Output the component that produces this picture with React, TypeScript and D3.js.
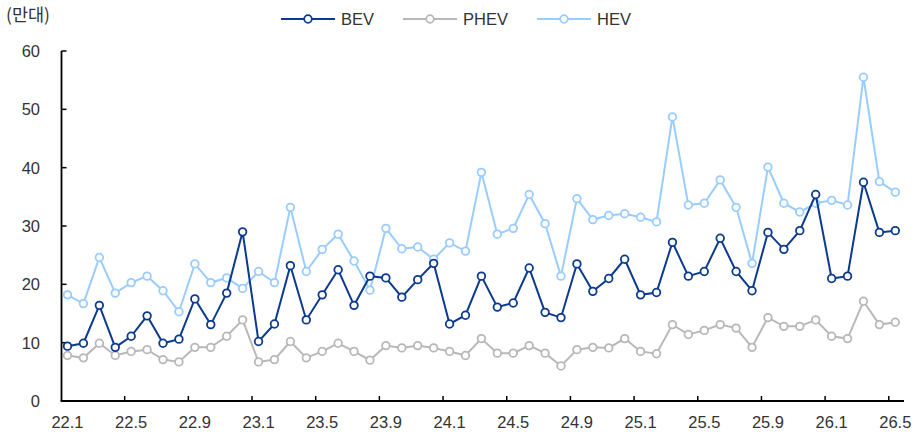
import React from "react";
import * as d3 from "d3";

const months: string[] = [];
for (let y = 22; y <= 26; y++) {
  for (let m = 1; m <= 12; m++) {
    if (y === 26 && m > 5) break;
    months.push(`${y}.${m}`);
  }
}

const tickLabels = ["22.1", "22.5", "22.9", "23.1", "23.5", "23.9", "24.1", "24.5", "24.9", "25.1", "25.5", "25.9", "26.1", "26.5"];
const yTicks = [0, 10, 20, 30, 40, 50, 60];

const bev = [
  9.4, 9.9, 16.4, 9.2, 11.1, 14.6, 9.9, 10.6, 17.5, 13.1, 18.5, 29.0,
  10.2, 13.2, 23.2, 13.9, 18.2, 22.5, 16.4, 21.4, 21.1, 17.8, 20.8, 23.6,
  13.2, 14.7, 21.4, 16.1, 16.8, 22.8, 15.2, 14.3, 23.5, 18.8, 21.0, 24.3,
  18.2, 18.6, 27.2, 21.4, 22.2, 27.9, 22.2, 18.9, 28.9, 26.0, 29.2, 35.4,
  21.0, 21.4, 37.5, 28.9, 29.2,
];
const phev = [
  7.8, 7.4, 9.9, 7.8, 8.5, 8.8, 7.1, 6.7, 9.2, 9.2, 11.1, 13.9,
  6.7, 7.1, 10.2, 7.4, 8.5, 9.9, 8.5, 7.0, 9.5, 9.1, 9.5, 9.1,
  8.5, 7.8, 10.7, 8.2, 8.2, 9.5, 8.2, 6.0, 8.8, 9.2, 9.1, 10.7,
  8.5, 8.1, 13.1, 11.4, 12.1, 13.1, 12.5, 9.2, 14.3, 12.8, 12.8, 13.9,
  11.1, 10.7, 17.1, 13.1, 13.5,
];
const hev = [
  18.2, 16.7, 24.6, 18.5, 20.3, 21.4, 18.9, 15.3, 23.5, 20.3, 21.1, 19.3,
  22.2, 20.3, 33.2, 22.2, 26.0, 28.6, 24.0, 19.0, 29.6, 26.1, 26.4, 24.3,
  27.1, 25.7, 39.2, 28.6, 29.6, 35.4, 30.4, 21.4, 34.7, 31.1, 31.8, 32.1,
  31.5, 30.7, 48.7, 33.6, 33.9, 37.9, 33.2, 23.6, 40.1, 33.9, 32.4, 33.9,
  34.4, 33.6, 55.5, 37.6, 35.8,
];

const seriesNames = ["BEV", "PHEV", "HEV"];
const seriesColors = ["#0B3A8E", "#B8B8B8", "#99CCFF"];
const seriesData = [bev, phev, hev];

export default function App() {
  const W = 920;
  const H = 435;
  const x = d3.scaleLinear().domain([0, months.length - 1]).range([67.5, 895.3]);
  const y = d3.scaleLinear().domain([0, 60]).range([401, 51]);
  const axisX0 = 61.5;
  const axisX1 = 904;
  const tickOffset = -6.5;
  const font = "'Liberation Sans', Arial, sans-serif";
  const textColor = "#333";

  const line = d3
    .line<number>()
    .x((_, i) => x(i))
    .y((d) => y(d));

  const legendX = [281, 403, 537];
  const order = [2, 1, 0];

  return (
    <svg
      width={W}
      height={H}
      style={{ position: "absolute", left: 0, top: 0, background: "#fff" }}
    >
      <text
        x={6}
        y={21}
        fontFamily="'Noto Sans CJK KR', sans-serif"
        fontSize={17.5}
        fill={textColor}
      >
        (만대)
      </text>

      {seriesNames.map((name, k) => (
        <g key={name}>
          <line
            x1={legendX[k]}
            x2={legendX[k] + 54}
            y1={19}
            y2={19}
            stroke={seriesColors[k]}
            strokeWidth={2}
          />
          <circle
            cx={legendX[k] + 27}
            cy={19}
            r={3.8}
            fill="#fff"
            stroke={seriesColors[k]}
            strokeWidth={1.8}
          />
          <text
            x={legendX[k] + 60}
            y={25}
            fontFamily={font}
            fontSize={16.5}
            fill={textColor}
          >
            {name}
          </text>
        </g>
      ))}

      <line x1={axisX0} x2={axisX0} y1={y(60)} y2={y(0)} stroke="#000" strokeWidth={1.8} />
      {yTicks.map((t) => (
        <g key={t}>
          <line x1={axisX0} x2={axisX0 + 5} y1={y(t)} y2={y(t)} stroke="#000" strokeWidth={1.5} />
          <text
            x={40}
            y={y(t)}
            dy="0.36em"
            textAnchor="end"
            fontFamily={font}
            fontSize={16.5}
            fill={textColor}
          >
            {t}
          </text>
        </g>
      ))}

      <line x1={axisX0 - 0.9} x2={axisX1} y1={y(0)} y2={y(0)} stroke="#000" strokeWidth={1.8} />
      {months.map((m, i) =>
        tickLabels.includes(m) ? (
          <g key={m}>
            {i > 0 && (
              <line
                x1={x(i) + tickOffset}
                x2={x(i) + tickOffset}
                y1={y(0)}
                y2={y(0) - 5}
                stroke="#000"
                strokeWidth={1.5}
              />
            )}
            <text
              x={x(i)}
              y={428}
              textAnchor="middle"
              fontFamily={font}
              fontSize={16.5}
              fill={textColor}
            >
              {m}
            </text>
          </g>
        ) : null
      )}

      {order.map((k) => (
        <g key={seriesNames[k]}>
          <path
            d={line(seriesData[k]) || ""}
            fill="none"
            stroke={seriesColors[k]}
            strokeWidth={2}
          />
          {seriesData[k].map((v, i) => (
            <circle
              key={i}
              cx={x(i)}
              cy={y(v)}
              r={3.8}
              fill="#fff"
              stroke={seriesColors[k]}
              strokeWidth={1.8}
            />
          ))}
        </g>
      ))}
    </svg>
  );
}
